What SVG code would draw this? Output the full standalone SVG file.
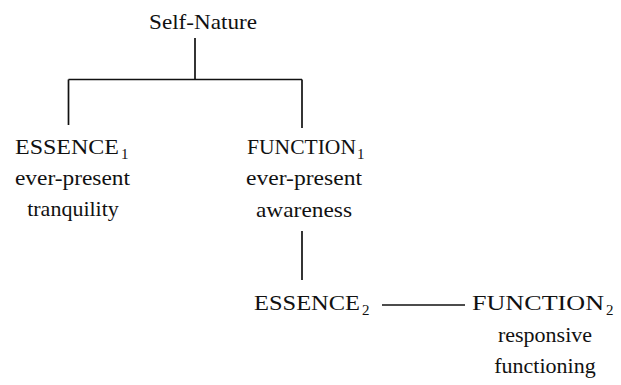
<svg xmlns="http://www.w3.org/2000/svg" width="621" height="385" viewBox="0 0 621 385">
  <style>
    .t { font-family: "Liberation Serif", "Times New Roman", serif; font-size: 22px; fill: #111; }
    .c { text-anchor: middle; }
    .sub { font-size: 15px; }
    .ln { stroke: #111; stroke-width: 1.7; fill: none; stroke-linecap: butt; }
  </style>
  <rect width="621" height="385" fill="#fff"/>

  <g id="connectors">
    <path class="ln" d="M195,38 V79.5"/>
    <path class="ln" d="M68.5,79.5 H302"/>
    <path class="ln" d="M68.5,79.5 V125"/>
    <path class="ln" d="M302,79.5 V128"/>
    <path class="ln" d="M302,231 V280"/>
    <path class="ln" d="M382,305 H465"/>
  </g>

  <g id="self-nature">
    <text class="t" x="149" y="29" textLength="108" lengthAdjust="spacingAndGlyphs">Self-Nature</text>
  </g>

  <g id="essence1">
    <text class="t" x="15" y="154"><tspan textLength="104" lengthAdjust="spacingAndGlyphs">ESSENCE</tspan><tspan class="sub" x="121" dy="5">1</tspan></text>
    <text class="t" x="15" y="185" textLength="115" lengthAdjust="spacingAndGlyphs">ever-present</text>
    <text class="t c" x="73" y="216">tranquility</text>
  </g>

  <g id="function1">
    <text class="t" x="247" y="154"><tspan textLength="109" lengthAdjust="spacingAndGlyphs">FUNCTION</tspan><tspan class="sub" x="357" dy="5">1</tspan></text>
    <text class="t" x="246" y="185" textLength="116" lengthAdjust="spacingAndGlyphs">ever-present</text>
    <text class="t" x="256" y="217" textLength="96" lengthAdjust="spacingAndGlyphs">awareness</text>
  </g>

  <g id="essence2">
    <text class="t" x="254" y="310"><tspan textLength="106" lengthAdjust="spacingAndGlyphs">ESSENCE</tspan><tspan class="sub" x="362" dy="5">2</tspan></text>
  </g>

  <g id="function2">
    <text class="t" x="472" y="310"><tspan textLength="132" lengthAdjust="spacingAndGlyphs">FUNCTION</tspan><tspan class="sub" x="606" dy="5">2</tspan></text>
    <text class="t c" x="545" y="342">responsive</text>
    <text class="t c" x="545" y="373">functioning</text>
  </g>
</svg>
